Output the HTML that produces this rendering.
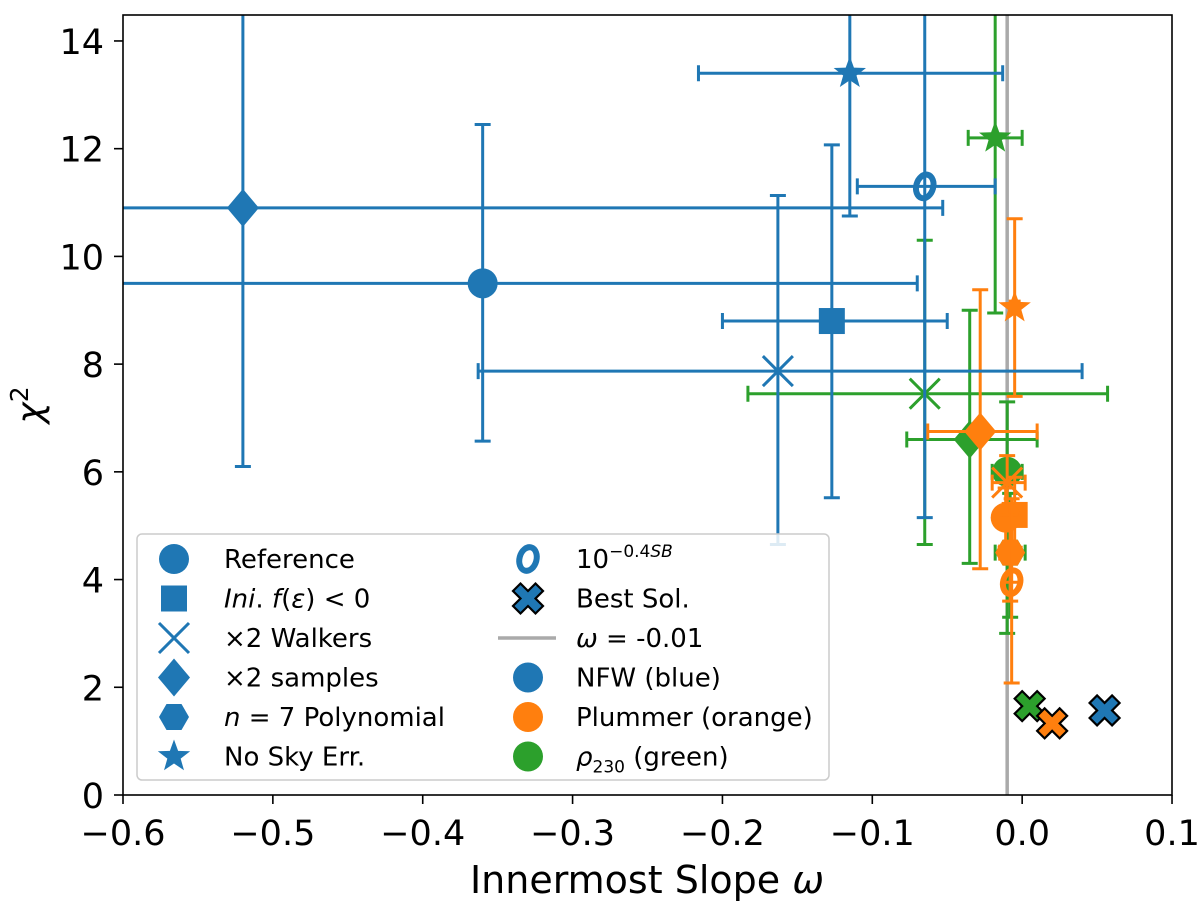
<!DOCTYPE html>
<html><head><meta charset="utf-8"><style>
body{margin:0;background:#fff}
svg{display:block;font-family:"DejaVu Sans","Liberation Sans",sans-serif}
</style></head><body>
<svg id="chart" width="1200" height="902" xmlns="http://www.w3.org/2000/svg">
<defs><clipPath id="clip"><rect x="123" y="15" width="1049" height="780"/></clipPath></defs>
<g id="plot" clip-path="url(#clip)"></g>
<rect x="123" y="15" width="1049" height="780" fill="none" stroke="#000" stroke-width="1.6"/>
<g id="ticks"></g>
<text x="647" y="893" font-size="38" text-anchor="middle">Innermost Slope <tspan font-style="italic">ω</tspan></text>
<text transform="translate(42,405) rotate(-90)" font-size="36" text-anchor="middle"><tspan font-style="italic">χ</tspan><tspan dy="-14" font-size="25">2</tspan></text>
<g id="legend">
<rect x="137" y="534" width="692" height="246" rx="5" fill="#fff" fill-opacity="0.85" stroke="#ccc" stroke-width="1.5"/>
</g>
</svg>
<script>
const xTicks=[-0.6,-0.5,-0.4,-0.3,-0.2,-0.1,0.0,0.1];
const xTickLabels=["−0.6","−0.5","−0.4","−0.3","−0.2","−0.1","0.0","0.1"];
const yTicks=[0,2,4,6,8,10,12,14];
const blueMarkers=["circle","square","x","diamond","star","o"];
const blueX=[-0.36,-0.127,-0.163,-0.52,-0.115,-0.065];
const blueY=[9.5,8.8,7.87,10.9,13.4,11.3];
const blueXlo=[-0.7,-0.2,-0.363,-0.7,-0.216,-0.11];
const blueXhi=[-0.07,-0.05,0.04,-0.053,-0.013,-0.018];
const blueYlo=[6.57,5.52,4.65,6.1,10.75,5.15];
const blueYhi=[12.45,12.07,11.13,16,16,16];
const greenMarkers=["x","star","diamond","circle","hexagon"];
const greenX=[-0.065,-0.018,-0.035,-0.01,-0.008];
const greenY=[7.45,12.2,6.6,6.0,4.5];
const greenXlo=[-0.183,-0.036,-0.077,-0.02,-0.018];
const greenXhi=[0.057,0.0,0.01,0.0,0.002];
const greenYlo=[4.65,8.95,4.3,3.0,3.3];
const greenYhi=[10.3,16,9.0,7.3,5.6];
const orangeMarkers=["star","diamond","square","circle","x","hexagon","o"];
const orangeX=[-0.005,-0.028,-0.005,-0.011,-0.01,-0.008,-0.007];
const orangeY=[9.05,6.75,5.2,5.15,5.8,4.5,3.95];
const orangeXlo=[-0.008,-0.063,-0.01,-0.016,-0.02,-0.015,-0.012];
const orangeXhi=[-0.002,0.01,0.0,-0.006,0.002,-0.002,-0.002];
const orangeYlo=[7.4,4.2,4.6,4.6,5.2,3.6,2.08];
const orangeYhi=[10.7,9.38,5.9,5.7,6.3,5.2,5.5];
const bestX=[0.055,0.005,0.02];
const bestY=[1.57,1.65,1.33];
const refLine=-0.01;

const X=v=>123+(v+0.6)*1498.6;
const Y=v=>795-v*53.86;
const NS="http://www.w3.org/2000/svg";
function mk(tag,attrs,parent){const e=document.createElementNS(NS,tag);for(const k in attrs)e.setAttribute(k,attrs[k]);parent.appendChild(e);return e;}
const plot=document.getElementById('plot');
const ticks=document.getElementById('ticks');

xTicks.forEach((t,i)=>{
  const l=mk('line',{x1:X(t),x2:X(t),y1:795,y2:804,stroke:'#000','stroke-width':1.6},ticks);
  
  
  const tx=mk('text',{x:X(t),y:845,'font-size':35,'text-anchor':'middle'},ticks);tx.textContent=xTickLabels[i];
  
  
});
yTicks.forEach(t=>{
  const l=mk('line',{x1:114,x2:123,y1:Y(t),y2:Y(t),stroke:'#000','stroke-width':1.6},ticks);
  
  
  const tx=mk('text',{x:104,y:Y(t)+13,'font-size':35,'text-anchor':'end'},ticks);tx.textContent=String(t);
  
  
});

const rl=mk('line',{x1:X(refLine),x2:X(refLine),y1:15,y2:795,stroke:'#aaa','stroke-width':3.5},plot);



function marker(type,cx,cy,col,parent,s){
  s=s||1;let e;
  if(type==='circle')e=mk('circle',{cx,cy,r:15*s,fill:col},parent);
  else if(type==='square')e=mk('rect',{x:cx-13*s,y:cy-13*s,width:26*s,height:26*s,fill:col},parent);
  else if(type==='diamond')e=mk('polygon',{points:`${cx},${cy-19*s} ${cx+16*s},${cy} ${cx},${cy+19*s} ${cx-16*s},${cy}`,fill:col},parent);
  else if(type==='x')e=mk('path',{d:`M${cx-15*s} ${cy-15*s}L${cx+15*s} ${cy+15*s}M${cx-15*s} ${cy+15*s}L${cx+15*s} ${cy-15*s}`,stroke:col,'stroke-width':3,fill:'none'},parent);
  else if(type==='hexagon'){let p=[];for(let i=0;i<6;i++){const a=Math.PI/3*i;p.push((cx+15*s*Math.cos(a))+','+(cy+15*s*Math.sin(a)));}e=mk('polygon',{points:p.join(' '),fill:col},parent);}
  else if(type==='star'){let p=[];for(let i=0;i<10;i++){const r=i%2?7*s:17*s;const a=-Math.PI/2+Math.PI/5*i;p.push((cx+r*Math.cos(a))+','+(cy+r*Math.sin(a)));}e=mk('polygon',{points:p.join(' '),fill:col},parent);}
  else if(type==='o')e=mk('ellipse',{cx,cy,rx:8.5*s,ry:12*s,fill:'none',stroke:col,'stroke-width':6*s,transform:`rotate(15 ${cx} ${cy})`},parent);
  else if(type==='bestx'){const a=7.5*s,b=15*s;e=mk('polygon',{points:`${cx-b},${cy-b+a} ${cx-b+a},${cy-b} ${cx},${cy-a} ${cx+b-a},${cy-b} ${cx+b},${cy-b+a} ${cx+a},${cy} ${cx+b},${cy+b-a} ${cx+b-a},${cy+b} ${cx},${cy+a} ${cx-b+a},${cy+b} ${cx-b},${cy+b-a} ${cx-a},${cy}`,fill:col,stroke:'#000','stroke-width':2.2},parent);}
  return e;
}
function series(name,col,M,xs,ys,xlo,xhi,ylo,yhi){
  const g=mk('g',{},plot);
  
  
  xs.forEach((v,i)=>{
    const cx=X(v),cy=Y(ys[i]);
    const eb=mk('path',{d:`M${X(xlo[i])} ${cy}H${X(xhi[i])}M${X(xlo[i])} ${cy-8}V${cy+8}M${X(xhi[i])} ${cy-8}V${cy+8}M${cx} ${Y(ylo[i])}V${Y(yhi[i])}M${cx-8} ${Y(ylo[i])}H${cx+8}M${cx-8} ${Y(yhi[i])}H${cx+8}`,stroke:col,'stroke-width':3,fill:'none'},g);
    
    
    const m=marker(M[i],cx,cy,col,g);
    
    
  });
}
series('green','#2ca02c',greenMarkers,greenX,greenY,greenXlo,greenXhi,greenYlo,greenYhi);
series('orange','#ff7f0e',orangeMarkers,orangeX,orangeY,orangeXlo,orangeXhi,orangeYlo,orangeYhi);
series('blue','#1f77b4',blueMarkers,blueX,blueY,blueXlo,blueXhi,blueYlo,blueYhi);
const bestCols=['#1f77b4','#2ca02c','#ff7f0e'];
bestX.forEach((v,i)=>{
  const m=marker('bestx',X(v),Y(bestY[i]),bestCols[i],plot);
  
  
});

const lg=document.getElementById('legend');
const left=[['circle','Reference'],['square','<tspan font-style="italic">Ini</tspan>. <tspan font-style="italic">f</tspan>(<tspan font-style="italic">ε</tspan>) &lt; 0'],['x','×2 Walkers'],['diamond','×2 samples'],['hexagon','<tspan font-style="italic">n</tspan> = 7 Polynomial'],['star','No Sky Err.']];
const right=[['o','10<tspan dy="-11" font-size="17">−0.4<tspan font-style="italic">SB</tspan></tspan>','#1f77b4'],['bestx','Best Sol.','#1f77b4'],['line','<tspan font-style="italic">ω</tspan> = -0.01','#aaa'],['circle','NFW (blue)','#1f77b4'],['circle','Plummer (orange)','#ff7f0e'],['circle','<tspan font-style="italic">ρ</tspan><tspan dy="7" font-size="17">230</tspan><tspan dy="-7"> (green)</tspan>','#2ca02c']];
left.forEach((e,i)=>{
  const y=559+i*39.5;
  const m=marker(e[0],174,y,'#1f77b4',lg,1);
  
  
  const t=mk('text',{x:224,y:y+9,'font-size':26},lg);t.innerHTML=e[1];
  
  
});
right.forEach((e,i)=>{
  const y=559+i*39.5;
  let m;
  if(e[0]==='line')m=mk('line',{x1:498,x2:556,y1:y,y2:y,stroke:e[2],'stroke-width':3.5},lg);
  else m=marker(e[0],528,y,e[2],lg,1);
  
  
  const t=mk('text',{x:576,y:y+9,'font-size':26},lg);t.innerHTML=e[1];
  
  
});
</script>
</body></html>
